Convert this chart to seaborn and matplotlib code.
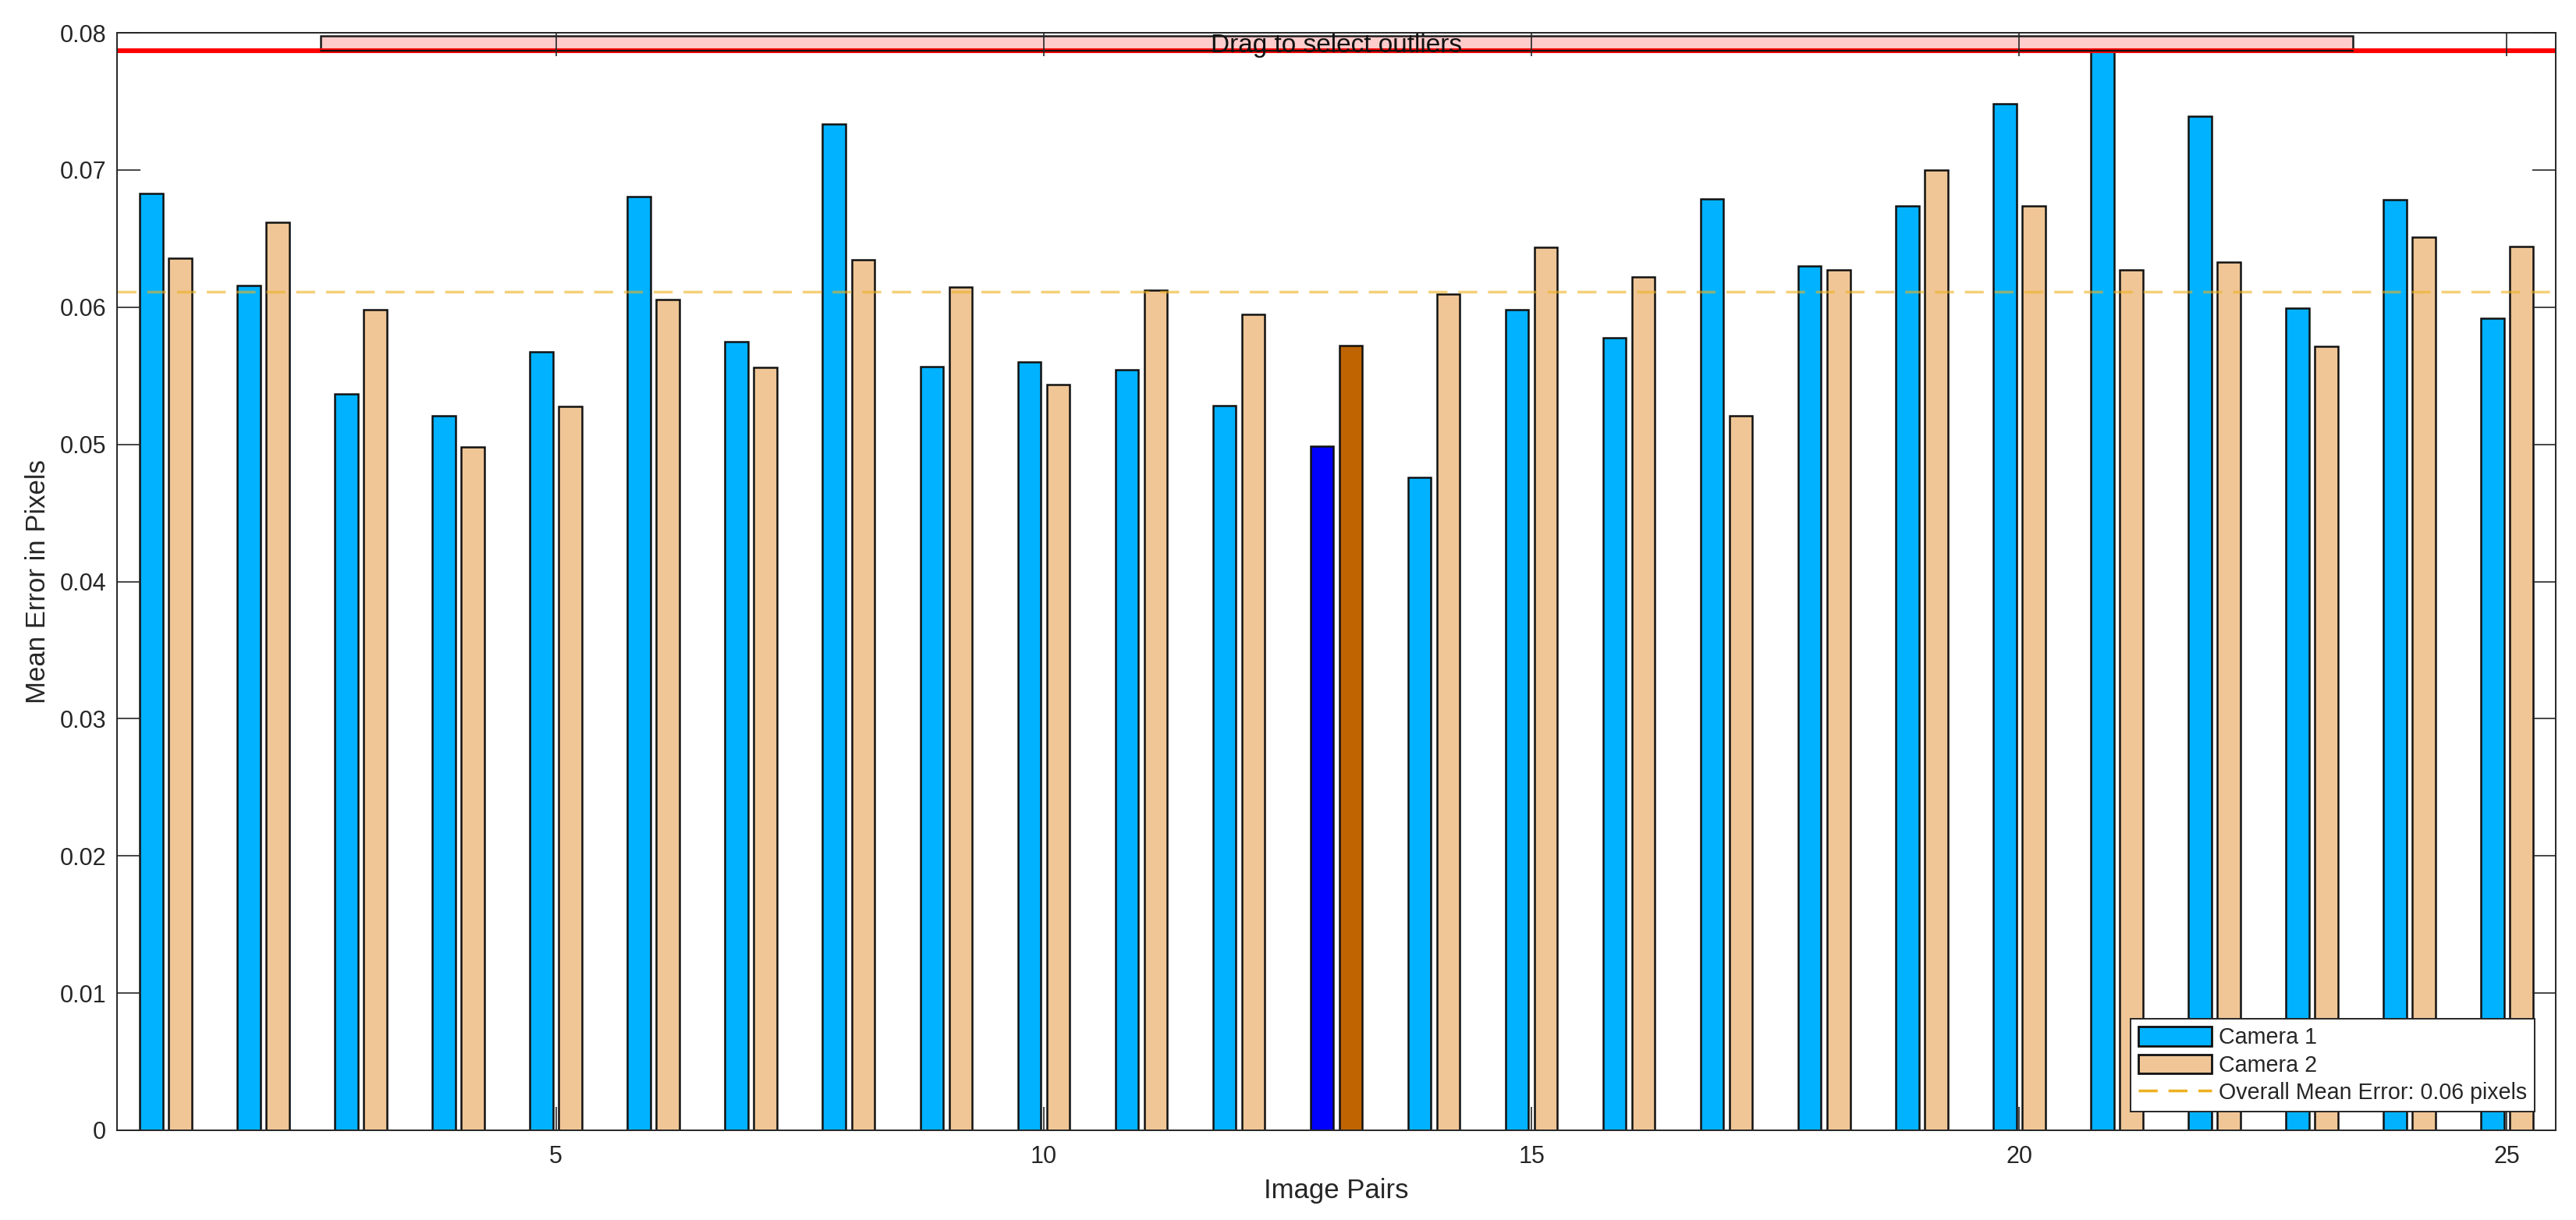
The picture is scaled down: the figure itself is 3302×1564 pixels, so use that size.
import numpy as np
import pandas as pd
import matplotlib
matplotlib.use("Agg")
import matplotlib.pyplot as plt
import matplotlib.transforms as mtransforms
from matplotlib.patches import Patch, Rectangle
from matplotlib.lines import Line2D
import seaborn as sns

# ---------------- data ----------------
pairs = list(range(1, 26))
camera1 = [0.0683, 0.06155, 0.05365, 0.0521, 0.05675, 0.06808, 0.05748, 0.07336, 0.05564, 0.05602,
           0.05546, 0.05285, 0.04985, 0.04757, 0.05982, 0.05777, 0.0679, 0.06299, 0.06737, 0.0748,
           0.0787, 0.07392, 0.05991, 0.06781, 0.0592]
camera2 = [0.06354, 0.06617, 0.05982, 0.04978, 0.05274, 0.06055, 0.05558, 0.06347, 0.06146, 0.05436,
           0.06122, 0.05945, 0.05721, 0.06093, 0.06436, 0.06221, 0.0521, 0.06272, 0.0700, 0.06737,
           0.06272, 0.06327, 0.05712, 0.06509, 0.06442]
series_names = ["Camera 1", "Camera 2"]
overall_mean = 0.0611
mean_label = "Overall Mean Error: 0.06 pixels"
outlier_threshold = 0.0787
selected_pair = 13
x_ticks = [5, 10, 15, 20, 25]
x_tick_labels = ["5", "10", "15", "20", "25"]
y_ticks = [0, 0.01, 0.02, 0.03, 0.04, 0.05, 0.06, 0.07, 0.08]
y_tick_labels = ["0", "0.01", "0.02", "0.03", "0.04", "0.05", "0.06", "0.07", "0.08"]
drag_text = "Drag to select outliers"

# ---------------- style ----------------
c1 = "#00B2FF"
c2 = "#F0C696"
c1_sel = "#0000FF"
c2_sel = "#BF6400"
mean_color = "#EDB120"
ink = "#262626"

sns.set_theme(style="white")
plt.rcParams['font.family'] = ['Liberation Sans', 'DejaVu Sans']

df = pd.DataFrame({
    "pair": pairs + pairs,
    "error": camera1 + camera2,
    "camera": [series_names[0]] * len(pairs) + [series_names[1]] * len(pairs),
})

W, H = 3302, 1564
fig = plt.figure(figsize=(W / 200, H / 200), dpi=200)
ax = fig.add_axes([150 / W, 1 - 1449 / H, (3276 - 150) / W, (1449 - 42) / H])

sns.barplot(data=df, x="pair", y="error", hue="camera", hue_order=series_names,
            palette=[c1, c2], saturation=1, native_scale=True, width=0.592, gap=0.2,
            errorbar=None, edgecolor="#111111", linewidth=0.9, legend=False,
            ax=ax, zorder=1.2)

idx = pairs.index(selected_pair)
ax.containers[0][idx].set_facecolor(c1_sel)
ax.containers[1][idx].set_facecolor(c2_sel)

# overall mean line
ax.axhline(overall_mean, color=mean_color, alpha=0.6, lw=1.25, dashes=(7.0, 4.0), zorder=1.6)

# outlier selection widget
trans = mtransforms.blended_transform_factory(ax.transAxes, ax.transData)
ax.add_patch(Rectangle((0.0835, outlier_threshold), 0.8332, 0.0798 - outlier_threshold,
                       transform=trans, facecolor="#FFCCCC", edgecolor="#1a1a1a",
                       lw=0.9, zorder=1.7))
ax.axhline(outlier_threshold, color="#FF0000", lw=2.2, zorder=1.8)
ax.axhline(outlier_threshold, xmin=0.0835, xmax=0.9167, color="#111111", lw=0.8, zorder=1.9)
ax.text(0.5, outlier_threshold - 0.00012, drag_text, transform=trans, ha="center",
        va="baseline", fontsize=12, color="#111111", zorder=2)

ax.set_xlim(0.5, 25.5)
ax.set_ylim(0, 0.08)
ax.set_xticks(x_ticks, labels=x_tick_labels)
ax.set_yticks(y_ticks, labels=y_tick_labels)
ax.set_axisbelow(False)
ax.tick_params(axis="both", which="both", direction="in", length=10.8, width=0.6,
               color=ink, labelcolor=ink, labelsize=11, top=True, right=True,
               bottom=True, left=True)
ax.tick_params(axis="x", pad=7)
ax.tick_params(axis="y", pad=5)
for s in ax.spines.values():
    s.set_color(ink)
    s.set_linewidth(0.7)
    s.set_visible(True)

ax.set_xlabel("Image Pairs", fontsize=12.5, color=ink, labelpad=4)
ax.set_ylabel("Mean Error in Pixels", fontsize=12.5, color=ink, labelpad=4)

handles = [
    Patch(facecolor=c1, edgecolor="#111111", linewidth=1.0, label=series_names[0]),
    Patch(facecolor=c2, edgecolor="#111111", linewidth=1.0, label=series_names[1]),
    Line2D([0], [0], color=mean_color, lw=1.25, dashes=(7.0, 4.0), label=mean_label),
]
leg = ax.legend(handles=handles, loc="lower right", bbox_to_anchor=(0.9914, 0.017),
                borderaxespad=0, fontsize=10.3, fancybox=False, framealpha=1,
                edgecolor=ink, handlelength=3.3, handleheight=0.95, handletextpad=0.3,
                labelspacing=0.25, borderpad=0.35)
leg.get_frame().set_linewidth(0.7)
leg.set_zorder(5)
for t in leg.get_texts():
    t.set_color(ink)

fig.savefig("out.png", dpi=200, facecolor="white")
